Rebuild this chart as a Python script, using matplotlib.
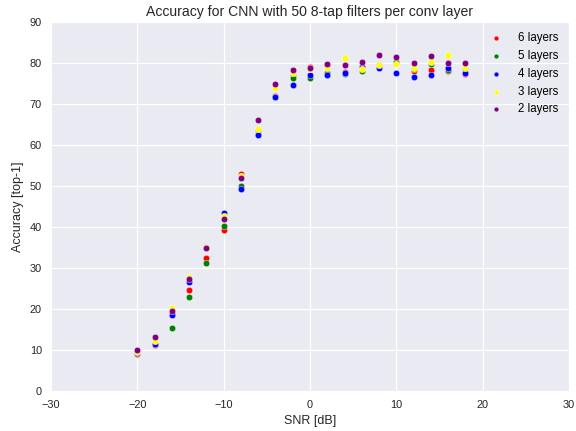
import matplotlib
matplotlib.use("Agg")
import matplotlib.pyplot as plt
import numpy as np

snr = list(range(-20, 20, 2))
acc_6 = [9.0, 11.3, 18.7, 24.6, 32.5, 39.3, 52.9, 63.7, 72.0, 77.0, 79.1, 79.5, 77.9, 79.0, 79.5, 80.0, 78.1, 78.3, 78.0, 77.3]
acc_5 = [9.5, 11.8, 15.3, 23.0, 31.2, 40.2, 50.0, 62.6, 71.8, 76.4, 76.4, 77.5, 77.3, 78.0, 79.0, 80.2, 78.5, 79.7, 78.3, 78.5]
acc_4 = [9.2, 11.5, 18.5, 26.7, 35.0, 43.3, 49.2, 62.4, 71.6, 74.6, 77.1, 77.1, 77.6, 79.1, 78.7, 77.6, 76.7, 77.1, 78.9, 77.6]
acc_3 = [9.6, 12.3, 20.2, 27.7, 35.0, 42.8, 52.5, 64.0, 73.9, 77.5, 78.5, 78.7, 81.1, 78.5, 79.5, 79.7, 78.9, 80.3, 81.9, 78.9]
acc_2 = [10.1, 13.2, 19.4, 27.2, 34.8, 41.9, 51.9, 66.1, 74.8, 78.3, 78.9, 79.7, 79.5, 80.3, 81.9, 81.4, 79.9, 81.8, 80.1, 79.9]

series = [("6 layers", acc_6, "red"), ("5 layers", acc_5, "green"),
          ("4 layers", acc_4, "blue"), ("3 layers", acc_3, "yellow"),
          ("2 layers", acc_2, "purple")]

plt.rcParams['font.family'] = ['Liberation Sans', 'DejaVu Sans']

fig = plt.figure(figsize=(8, 431/72), dpi=72)
ax = fig.add_axes([51/576, 1-391/431, (569-51)/576, (391-22)/431])
ax.set_facecolor('#EAEAF2')
for s in ax.spines.values():
    s.set_visible(False)
ax.grid(True, color='white', linewidth=1.2)
ax.set_axisbelow(True)

for label, vals, color in series:
    ax.scatter(snr, vals, s=42, c=color, edgecolors='white', linewidths=0.4, label=label, zorder=3)

ax.set_xlim(-30, 30)
ax.set_ylim(0, 90)
ax.set_xticks(np.arange(-30, 31, 10))
ax.set_yticks(np.arange(0, 91, 10))
ax.tick_params(length=0, labelsize=11, colors='#262626')
ax.tick_params(axis='x', pad=9)
ax.tick_params(axis='y', pad=9)
ax.set_xlabel("SNR [dB]", fontsize=12.5, color='#262626', labelpad=5)
ax.set_ylabel("Accuracy [top-1]", fontsize=12.5, color='#262626', labelpad=6)
ax.set_title("Accuracy for CNN with 50 8-tap filters per conv layer", fontsize=14, color='#262626', pad=6)
ax.legend(loc='upper right', frameon=False, fontsize=11.5, scatterpoints=1,
          markerscale=0.75, handletextpad=0.9, labelspacing=0.5)

fig.savefig("out.png", dpi=72)
